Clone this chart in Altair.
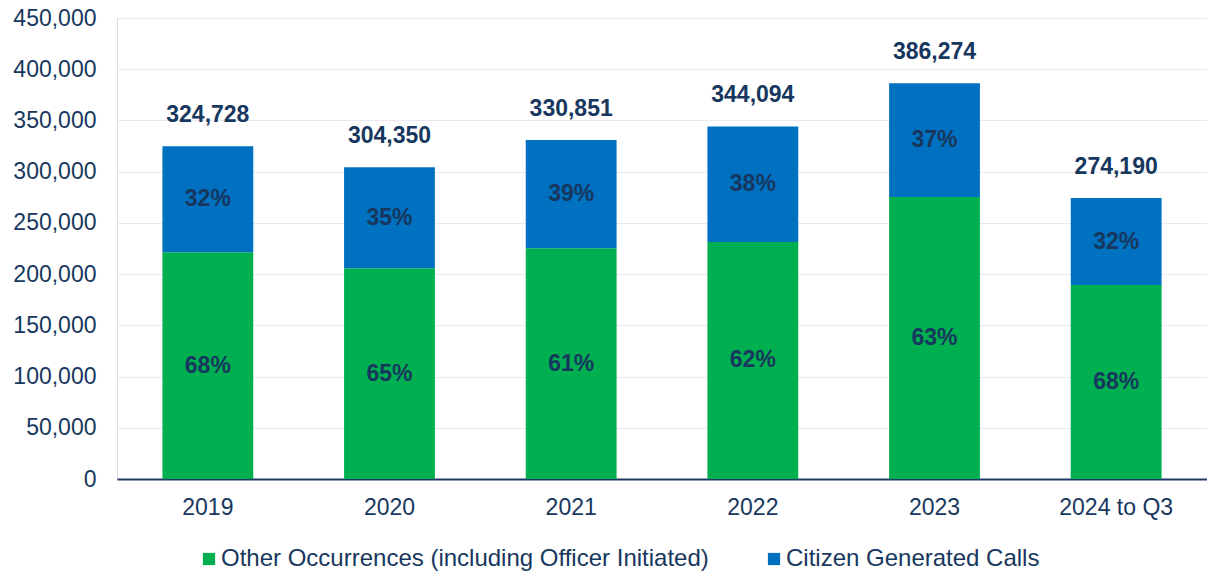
import altair as alt
import pandas as pd

years = ["2019", "2020", "2021", "2022", "2023", "2024 to Q3"]
totals = [324728, 304350, 330851, 344094, 386274, 274190]
other_vals = [221300, 205700, 225200, 231400, 275300, 189400]
citizen_vals = [103428, 98650, 105651, 112694, 110974, 84790]
other_pct = ["68%", "65%", "61%", "62%", "63%", "68%"]
citizen_pct = ["32%", "35%", "39%", "38%", "37%", "32%"]
series = ["Other Occurrences (including Officer Initiated)", "Citizen Generated Calls"]
colors = ["#00B050", "#0070C0"]
y_ticks = [0, 50000, 100000, 150000, 200000, 250000, 300000, 350000, 400000, 450000]

rows = []
for i, y in enumerate(years):
    o, c = other_vals[i], citizen_vals[i]
    rows.append(dict(year=y, series=series[0], y0=0, y1=o, mid=o / 2, label=other_pct[i]))
    rows.append(dict(year=y, series=series[1], y0=o, y1=o + c, mid=o + c / 2, label=citizen_pct[i]))
df = pd.DataFrame(rows)
tot = pd.DataFrame({"year": years, "total": totals})

TXT = "#17375E"
xenc = alt.X("year:N", sort=years, title=None,
             scale=alt.Scale(paddingInner=0.5, paddingOuter=0.25),
             axis=alt.Axis(labelAngle=0, labelFontSize=23, labelColor=TXT, labelPadding=17,
                           domainColor="#1F3864", domainWidth=2, ticks=False, labelFont="Liberation Sans"))
yscale = alt.Scale(domain=[0, 450000], nice=False)

bars = alt.Chart(df).mark_bar().encode(
    x=xenc,
    y=alt.Y("y1:Q", scale=yscale, title=None,
            axis=alt.Axis(values=y_ticks, labelExpr="format(datum.value, ',')", labelFontSize=23,
                          labelColor=TXT, labelPadding=21, domain=False, ticks=False,
                          gridColor="#E9E9EE", gridWidth=1, labelFont="Liberation Sans")),
    y2="y0:Q",
    color=alt.Color("series:N", scale=alt.Scale(domain=series, range=colors),
                    legend=alt.Legend(title=None, orient="none", legendX=80, legendY=529,
                                      direction="horizontal", symbolType="square", symbolSize=150,
                                      labelFontSize=24, labelColor=TXT, labelFont="Liberation Sans",
                                      labelLimit=800, columnPadding=53, symbolStrokeWidth=0,
                                      labelOffset=0)),
)

seglabels = alt.Chart(df).mark_text(fontSize=23, fontWeight="bold", color=TXT,
                                    font="Liberation Sans", baseline="middle").encode(
    x=alt.X("year:N", sort=years), y=alt.Y("mid:Q", scale=yscale),
    text="label:N")

totlabels = alt.Chart(tot).mark_text(fontSize=23, fontWeight="bold", color=TXT,
                                     font="Liberation Sans", baseline="middle", dy=-31).encode(
    x=alt.X("year:N", sort=years), y=alt.Y("total:Q", scale=yscale),
    text=alt.Text("total:Q", format=","))

chart = alt.layer(bars, seglabels, totlabels).properties(
    width=1090, height=461,
    autosize=alt.AutoSizeParams(type="none"),
    padding={"left": 117, "top": 18, "right": 0, "bottom": 94},
).configure_view(strokeWidth=0).configure(background="white")

chart.save("out.html", embed_options={"renderer": "svg", "actions": False})
